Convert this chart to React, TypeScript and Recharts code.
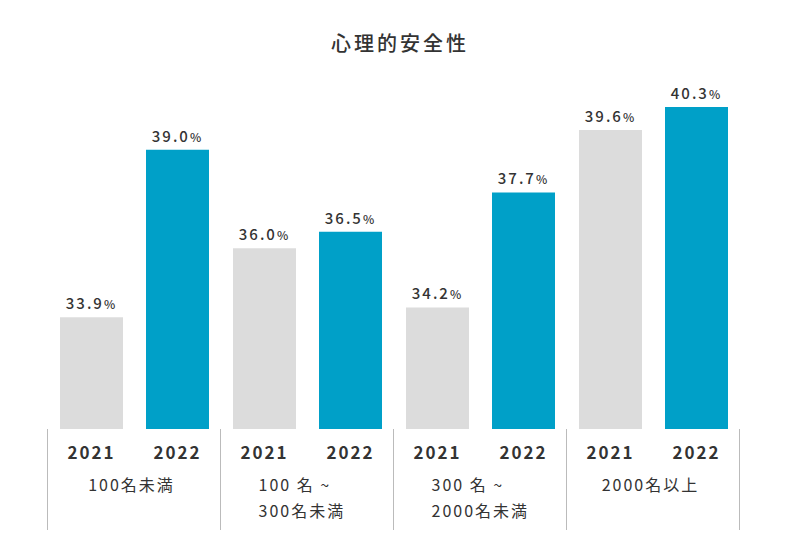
import React from "react";
import { BarChart, Bar, XAxis, YAxis, LabelList } from "recharts";

const groups = ["100名未満", "100名～300名未満", "300名～2000名未満", "2000名以上"];
const groupLines = [["100名未満"], ["100 名 ~", "300名未満"], ["300 名 ~", "2000名未満"], ["2000名以上"]];
const years = ["2021", "2022"];
const values2021 = [33.9, 36.0, 34.2, 39.6];
const values2022 = [39.0, 36.5, 37.7, 40.3];

const data = groups.map((g, i) => ({
  group: g,
  lines: groupLines[i],
  y2021: values2021[i],
  y2022: values2022[i],
}));

const GREY = "#dcdcdc";
const BLUE = "#00a0c8";
const TEXT = "#333333";
const FONT = "'Noto Sans CJK JP', 'Noto Sans', sans-serif";
const BAND = 173;

// value label with a smaller percent sign
function ValueLabel(props: any) {
  const { x, y, width, value } = props;
  return (
    <text
      x={x + width / 2}
      y={y - 8}
      textAnchor="middle"
      fill={TEXT}
      fontFamily={FONT}
      fontSize={15}
      fontWeight={500}
      letterSpacing={2}
    >
      {Number(value).toFixed(1)}
      <tspan fontSize={12}>%</tspan>
    </text>
  );
}

function GroupTick(props: any) {
  const { x, y, payload, index } = props;
  const idx = payload.index ?? index;
  const lines: string[] = data[idx]?.lines ?? [payload.value];
  const multi = lines.length > 1;
  return (
    <g>
      <line x1={x - BAND / 2 - 0.5} x2={x - BAND / 2 - 0.5} y1={y} y2={y + 101} stroke="#bbbbbb" />
      {idx === groups.length - 1 && (
        <line x1={x + BAND / 2 - 0.5} x2={x + BAND / 2 - 0.5} y1={y} y2={y + 101} stroke="#bbbbbb" />
      )}
      {years.map((yr, i) => (
        <text
          key={yr}
          x={x + (i === 0 ? -43 : 43)}
          y={y + 30}
          textAnchor="middle"
          fill={TEXT}
          fontFamily={FONT}
          fontSize={17}
          fontWeight={600}
          letterSpacing={2}
        >
          {yr}
        </text>
      ))}
      {lines.map((ln, i) => (
        <text
          key={i}
          x={multi ? x - 49 : x - 3}
          y={y + 62 + i * 26}
          textAnchor={multi ? "start" : "middle"}
          fill={TEXT}
          fontFamily={FONT}
          fontSize={16}
          letterSpacing={2}
        >
          {ln}
        </text>
      ))}
    </g>
  );
}

export default function App() {
  return (
    <div style={{ position: "absolute", left: 0, top: 0, width: 800, height: 560, background: "#fff" }}>
      <div
        style={{
          position: "absolute",
          top: 28,
          left: 0,
          width: 800,
          textAlign: "center",
          fontFamily: FONT,
          fontSize: 20,
          fontWeight: 500,
          letterSpacing: 3,
          color: TEXT,
        }}
      >
        心理的安全性
      </div>
      <BarChart
        width={800}
        height={560}
        data={data}
        margin={{ top: 84, right: 60, bottom: 31, left: 48 }}
        barSize={63}
        barGap={23}
      >
        <XAxis
          dataKey="group"
          axisLine={false}
          tickLine={false}
          tickSize={0}
          tickMargin={0}
          height={100}
          interval={0}
          tick={<GroupTick />}
        />
        <YAxis hide domain={[30.5, 41]} allowDataOverflow />
        <Bar dataKey="y2021" fill={GREY} isAnimationActive={false}>
          <LabelList dataKey="y2021" content={<ValueLabel />} />
        </Bar>
        <Bar dataKey="y2022" fill={BLUE} isAnimationActive={false}>
          <LabelList dataKey="y2022" content={<ValueLabel />} />
        </Bar>
      </BarChart>
    </div>
  );
}
